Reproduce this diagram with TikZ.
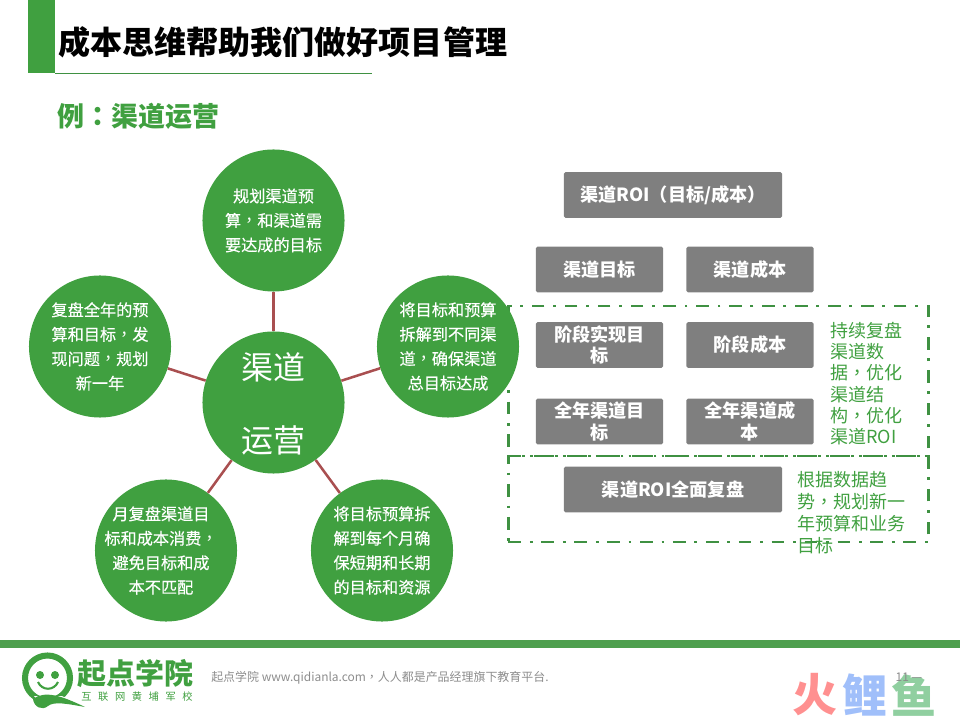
\documentclass[tikz,border=0pt]{standalone}
\usepackage{fontspec}
\setmainfont{Noto Sans CJK SC}
\newfontfamily\cjktc{Noto Sans CJK TC}
\newcommand{\cma}{{\cjktc ，}}
\usetikzlibrary{arrows.meta,positioning,calc}
\definecolor{qdgreen}{HTML}{40A040}
\definecolor{qdbar}{HTML}{4E9F4E}
\definecolor{qdline}{HTML}{A94F50}
\definecolor{qdgrey}{HTML}{7F7F7F}
\definecolor{qddash}{HTML}{3F9142}
\definecolor{wmred}{HTML}{FF9090}
\definecolor{wmblue}{HTML}{A0BFFA}
\definecolor{wmgreen}{HTML}{90CFA0}

\begin{document}
\begin{tikzpicture}[x=0.025cm,y=-0.025cm]
\tikzstyle{circ}=[circle,fill=qdgreen,text=white,minimum size=3.55cm,inner sep=0pt,align=center,font=\fontsize{11.5}{17.4}\selectfont\addfontfeatures{FakeBold=0.4}]
\tikzstyle{ctxt}=[text=white,inner sep=0pt,align=center,font=\fontsize{11.5}{17.4}\selectfont\addfontfeatures{FakeBold=0.4}]
\tikzstyle{gbox}=[fill=qdgrey,text=white,rounded corners=1pt,minimum width=3.175cm,minimum height=1.14cm,inner sep=0pt,align=center,font=\fontsize{12.9}{15.4}\selectfont\bfseries]
\tikzstyle{wbox}=[gbox,minimum width=5.45cm]
\tikzstyle{dbox}=[draw=qddash,line width=1.8pt,dash pattern=on 9pt off 6.3pt on 2pt off 6.1pt,minimum width=10.5cm,inner sep=0pt]
\tikzstyle{note}=[text=qdgreen,align=left,inner sep=0pt,anchor=north west,font=\fontsize{12.8}{15.2}\selectfont]
\tikzstyle{link}=[draw=qdline,line width=1.8pt]
\tikzstyle{wm}=[inner sep=0pt,font=\fontsize{32}{34}\selectfont\bfseries]
\useasboundingbox (0,0) rectangle (960,720);
% header
\fill[qdgreen] (28,0) rectangle (55,73);
\draw[qddash,line width=0.7pt] (55,73) -- (372,73);
\node[anchor=west,inner sep=0pt,font=\fontsize{22.8}{26}\selectfont\bfseries] (title) at (58,42) {成本思维帮助我们做好项目管理};
\node[anchor=west,inner sep=0pt,text=qdgreen,font=\fontsize{19.2}{22}\selectfont\bfseries] (sub) at (57,116) {例{\cjktc ：}渠道运营};
% dashed frames
\node[dbox,minimum height=3.75cm] (fa) at (718.5,381) {};
\node[dbox,minimum height=2.15cm] (fb) at (718.5,499) {};
% circles
\node[circ] (ctr) at (273.5,402.5) {};
\node[ctxt,font=\fontsize{22.7}{51.7}\selectfont] (ctrt) at (273.5,404) {渠道\\运营};
\node[circ] (top) at (273.5,220.5) {规划渠道预\\算\cma 和渠道需\\要达成的目标};
\node[circ] (rgt) at (448,346.5) {将目标和预算\\拆解到不同渠\\道\cma 确保渠道\\总目标达成};
\node[circ] (lr) at (382,550.5) {将目标预算拆\\解到每个月确\\保短期和长期\\的目标和资源};
\node[circ] (ll) at (166,550.5) {};
\node[ctxt] (llt) at (161,550.5) {月复盘渠道目\\标和成本消费\cma\\避免目标和成\\本不匹配};
\node[circ] (lft) at (100,346.5) {复盘全年的预\\算和目标\cma 发\\现问题\cma 规划\\新一年};
\draw[link] (ctr) -- (top);
\draw[link] (ctr) -- (rgt);
\draw[link] (ctr) -- (lr);
\draw[link] (ctr) -- (ll);
\draw[link] (ctr) -- (lft);
% boxes
\node[wbox] (roi) at (673,195) {渠道ROI{\cjktc （}目标/成本{\cjktc ）}};
\node[gbox] (tgt) at (599.5,269.5) {渠道目标};
\node[gbox] (cst) at (750,269.5) {渠道成本};
\node[gbox] (stg) at (599.5,345) {阶段实现目\\标};
\node[gbox] (stc) at (750,345) {阶段成本};
\node[gbox] (yrt) at (599.5,421.5) {全年渠道目\\标};
\node[gbox] (yrc) at (750,421.5) {全年渠道成\\本};
\node[wbox] (rev) at (673,489.5) {渠道ROI全面复盘};
\node[note] (na) at (830,321.5) {持续复盘\\渠道数\\据\cma 优化\\渠道结\\构\cma 优化\\渠道ROI};
\node[note,font=\fontsize{12.8}{15.6}\selectfont] (nb) at (797,471) {根据数据趋\\势\cma 规划新一\\年预算和业务\\目标};
% footer
\fill[qdbar] (0,640) rectangle (960,648);
\draw[qdgreen,line width=4.3pt] (47.5,678) circle (22.5);
\fill[qdgreen] (40,675) circle (4);
\fill[qdgreen] (55,675) circle (4);
\draw[qdgreen,line width=1.5pt] (38,682) .. controls (42,691) and (54,691) .. (58,682);
\fill[white] (34,696) -- (62,696) -- (85,708) -- (50,712) -- cycle;
\fill[qdgreen] (33,699) .. controls (45,690) and (62,696) .. (85,707) .. controls (68,704) and (54,701) .. (48,706) .. controls (42,711) and (34,707) .. (33,699) -- cycle;
\node[inner sep=0pt,text=qdgreen,font=\fontsize{20.6}{24}\selectfont\bfseries] (lg) at (135.5,674) {起点学院};
\node[inner sep=0pt,text=qdgreen,font=\fontsize{7.3}{9}\selectfont\addfontfeatures{LetterSpace=64}] (lgs) at (137,697) {互联网黄埔军校};
\node[anchor=west,inner sep=0pt,text=black!45,font=\fontsize{8.5}{10}\selectfont] (foot) at (211,678) {起点学院 www.qidianla.com\cma 人人都是产品经理旗下教育平台.};
\node[wm,text=wmred] (wa) at (815,695) {火};
\node[wm,text=wmblue] (wb) at (865,695) {鲤};
\node[wm,text=wmgreen] (wc) at (914,695) {鱼};
\node[anchor=center,inner sep=0pt,text=black!45,font=\fontsize{8.5}{10}\selectfont] (pg) at (909,677) {11 —};
\end{tikzpicture}
\end{document}
